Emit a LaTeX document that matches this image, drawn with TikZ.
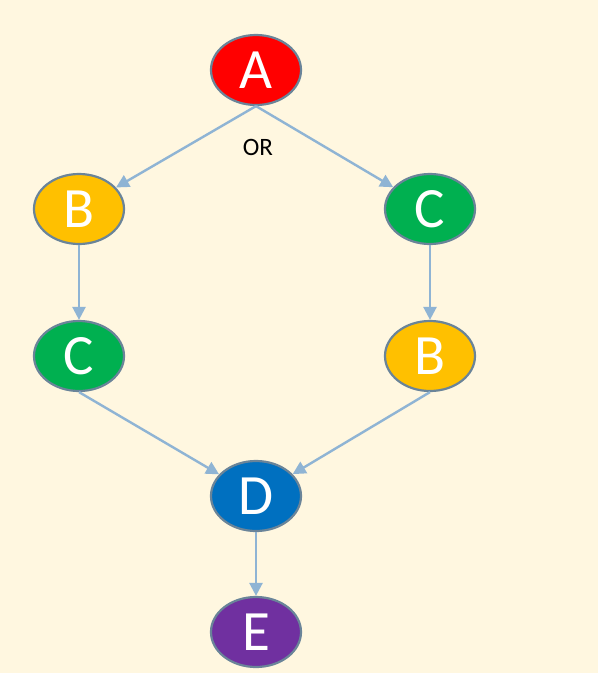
\documentclass[tikz,border=0pt]{standalone}
\usepackage{fontspec}
\setmainfont{Carlito}
\usetikzlibrary{shapes.geometric,arrows.meta}
\definecolor{bgcream}{HTML}{FFF7E0}
\definecolor{rimgray}{HTML}{6A8499}
\definecolor{linkblue}{HTML}{8FB4D4}
\definecolor{nodered}{HTML}{FF0000}
\definecolor{nodeyellow}{HTML}{FFC000}
\definecolor{nodegreen}{HTML}{00B050}
\definecolor{nodeblue}{HTML}{0070C0}
\definecolor{nodepurple}{HTML}{7030A0}
\tikzset{
  bubble/.style={ellipse,draw=rimgray,line width=2.2pt,minimum width=90pt,minimum height=70pt,inner sep=0pt,text=white,font=\fontsize{57}{57}\selectfont},
  link/.style={draw=linkblue,line width=2.4pt,-{Triangle[length=13pt,width=13pt]}}
}
\begin{document}
\begin{tikzpicture}[x=1pt,y=-1pt]
  \fill[bgcream] (0,0) rectangle (598,673);
  \useasboundingbox (0,0) rectangle (598,673);
  % the nodes
  \node[bubble,fill=nodered] (a) at (256,70) {A};
  \node[bubble,fill=nodeyellow] (bl) at (79,209) {B};
  \node[bubble,fill=nodegreen] (cr) at (430,209) {C};
  \node[bubble,fill=nodegreen] (cl) at (79,356) {C};
  \node[bubble,fill=nodeyellow] (br) at (430,356) {B};
  \node[bubble,fill=nodeblue] (d) at (256,496) {D};
  \node[bubble,fill=nodepurple] (e) at (256,632) {E};
  \node[font=\fontsize{25}{25}\selectfont] (or) at (258,147) {OR};
  % the links
  \draw[link] (a.south) -- (bl);
  \draw[link] (a.south) -- (cr);
  \draw[link] (bl) -- (cl);
  \draw[link] (cr) -- (br);
  \draw[link] (cl.south) -- (d);
  \draw[link] (br.south) -- (d);
  \draw[link] (d) -- (e);
\end{tikzpicture}
\end{document}
